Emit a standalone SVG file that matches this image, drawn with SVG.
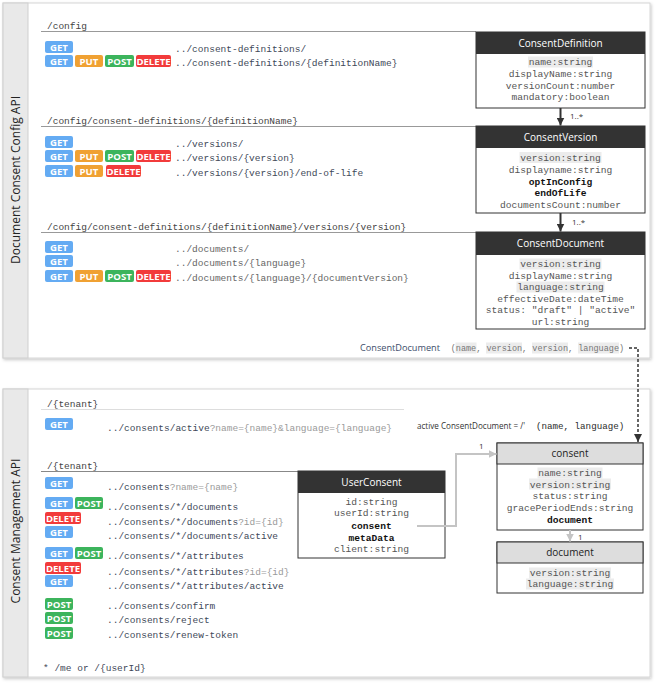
<svg xmlns="http://www.w3.org/2000/svg" width="656" height="683" viewBox="0 0 656 683">
<defs>
<filter id="sh" x="-5%" y="-5%" width="110%" height="110%"><feDropShadow dx="1" dy="1.5" stdDeviation="1.5" flood-color="#000" flood-opacity="0.22"/></filter>
<marker id="ad" viewBox="0 0 10 10" refX="10" refY="5" markerWidth="8" markerHeight="8" markerUnits="userSpaceOnUse" orient="auto"><path d="M0,0 L10,5 L0,10 z" fill="#333"/></marker>
<marker id="ag" viewBox="0 0 10 10" refX="10" refY="5" markerWidth="8" markerHeight="8" markerUnits="userSpaceOnUse" orient="auto"><path d="M0,0 L10,5 L0,10 z" fill="#c4c4c4"/></marker>
<style>
.panel{fill:#fff;stroke:#d6d6d6;stroke-width:1}
.strip{fill:#e9e9e9;stroke:#cfcfcf;stroke-width:1}
.side{font-family:"Open Sans","Liberation Sans",sans-serif;font-size:12px;fill:#222;text-anchor:middle}
.bt{font-family:"Open Sans","Liberation Sans",sans-serif;font-size:9.6px;font-weight:700;fill:#fff;text-anchor:middle}
.get{fill:#64abf3}.put{fill:#f0a133}.post{fill:#3cb45c}.del{fill:#f23b3b}
.m{font-family:"Liberation Mono","Courier New",monospace;font-size:9.5px;fill:#404858}
.q{fill:#9a9a9a}
.ttl{font-family:"Liberation Mono","Courier New",monospace;font-size:9.5px;fill:#444}
.ul{stroke:#999;stroke-width:1}
.box{fill:#fff;stroke:#333;stroke-width:1}
.hd{fill:#333}
.hl{fill:#ddd;stroke:#333;stroke-width:1}
.ht{font-family:"Open Sans","Liberation Sans",sans-serif;font-size:10px;fill:#fff;text-anchor:middle}
.hk{font-family:"Open Sans","Liberation Sans",sans-serif;font-size:10px;fill:#222;text-anchor:middle}
.f{font-family:"Liberation Mono","Courier New",monospace;font-size:9.6px;fill:#555;text-anchor:middle}
.fb{font-weight:700;fill:#111}
.hi{fill:#ececec}
.lab{font-family:"Open Sans","Liberation Sans",sans-serif;font-size:8px;fill:#333}
</style>
</defs>

<g id="panel-config">
<rect class="panel" x="3" y="3" width="647" height="355" filter="url(#sh)"/>
<rect class="strip" x="3" y="3" width="25" height="355"/>
<text class="side" transform="translate(19.5,180) rotate(-90)">Document Consent Config API</text>
</g>
<g id="panel-mgmt">
<rect class="panel" x="3" y="389" width="647" height="288" filter="url(#sh)"/>
<rect class="strip" x="3" y="389" width="25" height="288"/>
<text class="side" transform="translate(19.5,531) rotate(-90)">Consent Management API</text>
</g>

<g id="sec-config">
<text class="ttl" x="47" y="29">/config</text>
<line class="ul" x1="41" y1="31.5" x2="476" y2="31.5"/>
<g id="r1"><rect class="get" x="45" y="41" width="28" height="12" rx="2"/><text class="bt" x="59" y="50.5">GET</text>
<text class="m" x="175" y="52">../consent-definitions/</text></g>
<g id="r2"><rect class="get" x="45" y="55" width="28" height="12" rx="2"/><text class="bt" x="59" y="64.5">GET</text>
<rect class="put" x="75" y="55" width="28" height="12" rx="2"/><text class="bt" x="89" y="64.5">PUT</text>
<rect class="post" x="105" y="55" width="29" height="12" rx="2"/><text class="bt" x="119.5" y="64.5">POST</text>
<rect class="del" x="136" y="55" width="35" height="12" rx="2"/><text class="bt" x="153.5" y="64.5">DELETE</text>
<text class="m" x="175" y="66">../consent-definitions/{definitionName}</text></g>
</g>

<g id="sec-versions">
<text class="ttl" x="47" y="124">/config/consent-definitions/{definitionName}</text>
<line class="ul" x1="41" y1="126.5" x2="476" y2="126.5"/>
<g id="r3"><rect class="get" x="45" y="136" width="28" height="12" rx="2"/><text class="bt" x="59" y="145.5">GET</text>
<text class="m" x="175" y="147">../versions/</text></g>
<g id="r4"><rect class="get" x="45" y="150" width="28" height="12" rx="2"/><text class="bt" x="59" y="159.5">GET</text>
<rect class="put" x="75" y="150" width="28" height="12" rx="2"/><text class="bt" x="89" y="159.5">PUT</text>
<rect class="post" x="105" y="150" width="29" height="12" rx="2"/><text class="bt" x="119.5" y="159.5">POST</text>
<rect class="del" x="136" y="150" width="35" height="12" rx="2"/><text class="bt" x="153.5" y="159.5">DELETE</text>
<text class="m" x="175" y="161">../versions/{version}</text></g>
<g id="r5"><rect class="get" x="45" y="165" width="28" height="12" rx="2"/><text class="bt" x="59" y="174.5">GET</text>
<rect class="put" x="75" y="165" width="28" height="12" rx="2"/><text class="bt" x="89" y="174.5">PUT</text>
<rect class="del" x="106" y="165" width="35" height="12" rx="2"/><text class="bt" x="123.5" y="174.5">DELETE</text>
<text class="m" x="175" y="176">../versions/{version}/end-of-life</text></g>
</g>

<g id="sec-documents">
<text class="ttl" x="47" y="230">/config/consent-definitions/{definitionName}/versions/{version}</text>
<line class="ul" x1="41" y1="232.5" x2="476" y2="232.5"/>
<g id="r6"><rect class="get" x="45" y="241" width="28" height="12" rx="2"/><text class="bt" x="59" y="250.5">GET</text>
<text class="m" x="175" y="252" style="fill:#666">../documents/</text></g>
<g id="r7"><rect class="get" x="45" y="255" width="28" height="12" rx="2"/><text class="bt" x="59" y="264.5">GET</text>
<text class="m" x="175" y="266" style="fill:#666">../documents/{language}</text></g>
<g id="r8"><rect class="get" x="45" y="270" width="28" height="12" rx="2"/><text class="bt" x="59" y="279.5">GET</text>
<rect class="put" x="75" y="270" width="28" height="12" rx="2"/><text class="bt" x="89" y="279.5">PUT</text>
<rect class="post" x="105" y="270" width="29" height="12" rx="2"/><text class="bt" x="119.5" y="279.5">POST</text>
<rect class="del" x="136" y="270" width="35" height="12" rx="2"/><text class="bt" x="153.5" y="279.5">DELETE</text>
<text class="m" x="175" y="281" style="fill:#666">../documents/{language}/{documentVersion}</text></g>
</g>

<g id="ConsentDefinition">
<rect class="box" x="476" y="32" width="169" height="76"/>
<rect class="hd" x="476" y="32" width="169" height="22"/>
<text class="ht" x="560.5" y="46.5">ConsentDefinition</text>
<rect class="hi" x="528" y="56.5" width="65" height="11"/>
<text class="f" x="560.5" y="65">name:string</text>
<text class="f" x="560.5" y="77">displayName:string</text>
<text class="f" x="560.5" y="88.5">versionCount:number</text>
<text class="f" x="560.5" y="100">mandatory:boolean</text>
</g>
<g id="ConsentVersion">
<rect class="box" x="476" y="126" width="169" height="87"/>
<rect class="hd" x="476" y="126" width="169" height="22"/>
<text class="ht" x="560.5" y="140.5">ConsentVersion</text>
<rect class="hi" x="519.5" y="152" width="82" height="11"/>
<text class="f" x="560.5" y="160.5">version:string</text>
<text class="f" x="560.5" y="173">displayname:string</text>
<text class="f fb" x="560.5" y="184.5">optInConfig</text>
<text class="f fb" x="560.5" y="196">endOfLife</text>
<text class="f" x="560.5" y="207.5">documentsCount:number</text>
</g>
<g id="ConsentDocument">
<rect class="box" x="476" y="232" width="169" height="97"/>
<rect class="hd" x="476" y="232" width="169" height="23"/>
<text class="ht" x="560.5" y="247">ConsentDocument</text>
<rect class="hi" x="519.5" y="258.5" width="82" height="11"/>
<rect class="hi" x="516.5" y="281.5" width="88" height="11"/>
<text class="f" x="560.5" y="267">version:string</text>
<text class="f" x="560.5" y="278.5">displayName:string</text>
<text class="f" x="560.5" y="290">language:string</text>
<text class="f" x="560.5" y="301.5">effectiveDate:dateTime</text>
<text class="f" x="560.5" y="313">status: "draft" | "active"</text>
<text class="f" x="560.5" y="324.5">url:string</text>
</g>

<g id="doc-key">
<text x="360" y="351" font-family="Open Sans, Liberation Sans, sans-serif" font-size="9.5" fill="#3d4d6a" textLength="80" lengthAdjust="spacingAndGlyphs">ConsentDocument</text>
<rect class="hi" x="455.5" y="342.5" width="21" height="11"/>
<rect class="hi" x="486" y="342.5" width="36" height="11"/>
<rect class="hi" x="532" y="342.5" width="36" height="11"/>
<rect class="hi" x="578" y="342.5" width="41" height="11"/>
<text x="450.7" y="351" font-family="Liberation Mono, Courier New, monospace" font-size="8.5" fill="#777">(name, version, version, language)</text>
</g>

<g id="sec-tenant1">
<text class="ttl" x="47" y="407">/{tenant}</text>
<line x1="41" y1="409.5" x2="404" y2="409.5" stroke="#ddd" stroke-width="1"/>
<g id="r9"><rect class="get" x="45" y="418" width="28" height="12" rx="2"/><text class="bt" x="59" y="427.5">GET</text>
<text class="m" x="107" y="430.5">../consents/active<tspan class="q">?name={name}&amp;language={language}</tspan></text></g>
<text x="417" y="429" font-family="Open Sans, Liberation Sans, sans-serif" font-size="9.5" fill="#333" textLength="108" lengthAdjust="spacingAndGlyphs">active ConsentDocument = /'</text>
<text x="536" y="429" font-family="Liberation Mono, Courier New, monospace" font-size="9.2" fill="#2a2a2a">(name, language)</text>
</g>

<g id="sec-tenant2">
<text class="ttl" x="47" y="468.5">/{tenant}</text>
<line x1="41" y1="471.5" x2="298" y2="471.5" stroke="#888" stroke-width="1"/>
<g id="r10"><rect class="get" x="45" y="477" width="28" height="12" rx="2"/><text class="bt" x="59" y="486.5">GET</text>
<text class="m" x="107" y="490">../consents<tspan class="q">?name={name}</tspan></text></g>
<g id="r11"><rect class="get" x="45" y="497" width="28" height="12" rx="2"/><text class="bt" x="59" y="506.5">GET</text>
<rect class="post" x="75" y="497" width="28" height="12" rx="2"/><text class="bt" x="89" y="506.5">POST</text>
<text class="m" x="107" y="509.5">../consents/*/documents</text></g>
<g id="r12"><rect class="del" x="45" y="512" width="36" height="12" rx="2"/><text class="bt" x="63" y="521.5">DELETE</text>
<text class="m" x="107" y="524.5">../consents/*/documents<tspan class="q">?id={id}</tspan></text></g>
<g id="r13"><rect class="get" x="45" y="526" width="28" height="12" rx="2"/><text class="bt" x="59" y="535.5">GET</text>
<text class="m" x="107" y="539">../consents/*/documents/active</text></g>
<g id="r14"><rect class="get" x="45" y="547" width="28" height="12" rx="2"/><text class="bt" x="59" y="556.5">GET</text>
<rect class="post" x="75" y="547" width="28" height="12" rx="2"/><text class="bt" x="89" y="556.5">POST</text>
<text class="m" x="107" y="559">../consents/*/attributes</text></g>
<g id="r15"><rect class="del" x="45" y="562" width="36" height="12" rx="2"/><text class="bt" x="63" y="571.5">DELETE</text>
<text class="m" x="107" y="574.5">../consents/*/attributes<tspan class="q">?id={id}</tspan></text></g>
<g id="r16"><rect class="get" x="45" y="575" width="28" height="12" rx="2"/><text class="bt" x="59" y="584.5">GET</text>
<text class="m" x="107" y="588.5">../consents/*/attributes/active</text></g>
<g id="r17"><rect class="post" x="45" y="598" width="28" height="12" rx="2"/><text class="bt" x="59" y="607.5">POST</text>
<text class="m" x="107" y="608.5">../consents/confirm</text></g>
<g id="r18"><rect class="post" x="45" y="612" width="28" height="12" rx="2"/><text class="bt" x="59" y="621.5">POST</text>
<text class="m" x="107" y="623">../consents/reject</text></g>
<g id="r19"><rect class="post" x="45" y="627" width="28" height="12" rx="2"/><text class="bt" x="59" y="636.5">POST</text>
<text class="m" x="107" y="637.5">../consents/renew-token</text></g>
<text class="m" x="43" y="670.5">* /me or /{userId}</text>
</g>

<g id="UserConsent">
<rect class="box" x="298" y="471" width="147" height="87"/>
<rect class="hd" x="298" y="471" width="147" height="22"/>
<text class="ht" x="371.5" y="485.5">UserConsent</text>
<text class="f" x="371.5" y="505">id:string</text>
<text class="f" x="371.5" y="516">userId:string</text>
<text class="f fb" x="371.5" y="528.5">consent</text>
<text class="f fb" x="371.5" y="540.5">metaData</text>
<text class="f" x="371.5" y="552">client:string</text>
</g>
<g id="consent">
<rect class="box" x="497" y="443" width="146" height="87"/>
<rect class="hl" x="497" y="443" width="146" height="21"/>
<text class="hk" x="570" y="457">consent</text>
<rect class="hi" x="537.5" y="467.5" width="65" height="11"/>
<rect class="hi" x="529" y="478.5" width="82" height="11"/>
<text class="f" x="570" y="476">name:string</text>
<text class="f" x="570" y="487.5">version:string</text>
<text class="f" x="570" y="499">status:string</text>
<text class="f" x="570" y="510.5">gracePeriodEnds:string</text>
<text class="f fb" x="570" y="522.5">document</text>
</g>
<g id="document">
<rect class="box" x="497" y="542" width="146" height="51"/>
<rect class="hl" x="497" y="542" width="146" height="21"/>
<text class="hk" x="570" y="556">document</text>
<rect class="hi" x="529" y="567.5" width="82" height="11"/>
<rect class="hi" x="526" y="578.5" width="88" height="11"/>
<text class="f" x="570" y="576">version:string</text>
<text class="f" x="570" y="587">language:string</text>
</g>

<g id="connectors">
<line x1="560.5" y1="108" x2="560.5" y2="125.5" stroke="#333" stroke-width="2" marker-end="url(#ad)"/>
<text class="lab" x="570" y="119">1..*</text>
<line x1="560.5" y1="213" x2="560.5" y2="231.5" stroke="#333" stroke-width="2" marker-end="url(#ad)"/>
<text class="lab" x="572" y="224.5">1..*</text>
<path d="M629,348 H638 V442" fill="none" stroke="#333" stroke-width="1.5" stroke-dasharray="3 2" marker-end="url(#ad)"/>
<path d="M417,526 H456 V454 H496.5" fill="none" stroke="#c4c4c4" stroke-width="2" marker-end="url(#ag)"/>
<text class="lab" x="479" y="449">1</text>
<line x1="570" y1="530" x2="570" y2="541.5" stroke="#c4c4c4" stroke-width="2" marker-end="url(#ag)"/>
<text class="lab" x="578" y="540">1</text>
</g>
</svg>
